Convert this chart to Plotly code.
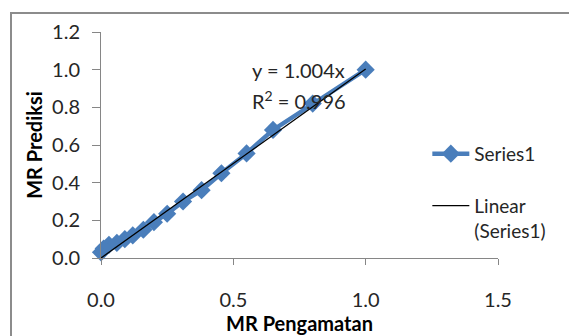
import plotly.graph_objects as go

# Data
mr_pengamatan = [0.0, 0.01, 0.03, 0.06, 0.09, 0.12, 0.16, 0.20, 0.25, 0.31, 0.38, 0.455, 0.55, 0.65, 0.80, 1.0]
mr_prediksi = [0.03, 0.05, 0.07, 0.08, 0.10, 0.12, 0.15, 0.19, 0.235, 0.30, 0.36, 0.45, 0.555, 0.68, 0.82, 1.0]
slope = 1.004
r2 = 0.996
trend_x = [0.0, 1.0]
trend_y = [slope * v for v in trend_x]

x_ticks = [0.0, 0.5, 1.0, 1.5]
y_ticks = [0.0, 0.2, 0.4, 0.6, 0.8, 1.0, 1.2]

BLUE = "#4a7ebb"
TXT = "#262626"
AX = "#868686"
FONT = "Lato"

fig = go.Figure()
fig.add_trace(go.Scatter(
    x=mr_pengamatan, y=mr_prediksi, mode="lines+markers", name="Series1",
    line=dict(color=BLUE, width=4.5),
    marker=dict(symbol="diamond", size=14, color=BLUE),
    legend="legend", showlegend=True, cliponaxis=False,
))
fig.add_trace(go.Scatter(
    x=trend_x, y=trend_y, mode="lines", name="Linear<br>(Series1)",
    line=dict(color="black", width=1.3),
    legend="legend2", showlegend=True, cliponaxis=False,
))

fig.add_annotation(x=0.562, y=0.998, xref="x", yref="y", text=f"y = {slope:.3f}x",
                   showarrow=False, xanchor="left", yanchor="middle",
                   font=dict(family=FONT, size=20, color=TXT))
fig.add_annotation(x=0.562, y=0.839, xref="x", yref="y", text=f"R<sup>2</sup> = {r2:.3f}",
                   showarrow=False, xanchor="left", yanchor="middle",
                   font=dict(family=FONT, size=20, color=TXT))

# outer chart border
fig.add_shape(type="rect", xref="paper", yref="paper", x0=-0.2267, x1=1.3, y0=-0.5, y1=1.084,
              line=dict(color="#8c8c8c", width=2), fillcolor="rgba(0,0,0,0)", layer="below")

fig.update_layout(
    width=569, height=336,
    showlegend=True,
    margin=dict(l=101, r=71, t=32, b=78),
    paper_bgcolor="white", plot_bgcolor="white",
    font=dict(family=FONT, size=20, color=TXT),
    legend=dict(x=0.822, y=0.461, xanchor="left", yanchor="middle", bgcolor="rgba(0,0,0,0)",
                itemwidth=37, font=dict(family=FONT, size=19, color=TXT)),
    legend2=dict(x=0.822, y=0.315, xanchor="left", yanchor="top", bgcolor="rgba(0,0,0,0)",
                 itemwidth=37, valign="top", font=dict(family=FONT, size=19, color=TXT)),
    xaxis=dict(range=[0, 1.5], tickvals=x_ticks, ticktext=[f"{v:.1f}" for v in x_ticks],
               automargin=False,
               showgrid=False, zeroline=False, showline=True, linecolor=AX, linewidth=1,
               ticks="outside", ticklen=6, tickcolor=AX, ticklabelstandoff=18,
               tickfont=dict(family=FONT, size=20, color=TXT),
               title=dict(text="<b>MR Pengamatan</b>", standoff=3,
                          font=dict(family=FONT, size=20, color="black"))),
    yaxis=dict(range=[0, 1.2], tickvals=y_ticks, ticktext=[f"{v:.1f}" for v in y_ticks],
               automargin=False,
               showgrid=False, zeroline=False, showline=True, linecolor=AX, linewidth=1,
               ticks="outside", ticklen=8, tickcolor=AX, ticklabelstandoff=8,
               tickfont=dict(family=FONT, size=20, color=TXT),
               title=dict(text="<b>MR Prediksi</b>", standoff=4,
                          font=dict(family=FONT, size=20, color="black"))),
)

fig.write_html("out.html")
